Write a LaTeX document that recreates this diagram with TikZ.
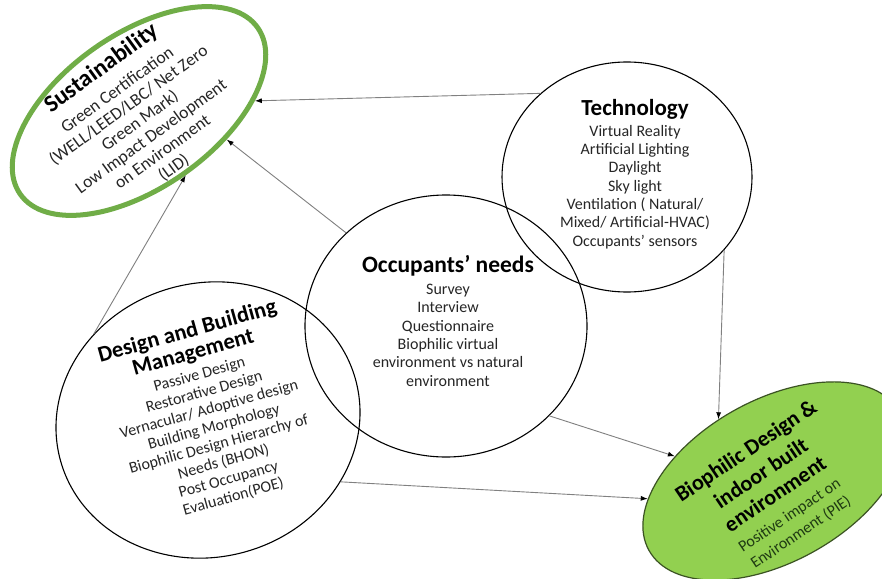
\documentclass[tikz,border=0pt]{standalone}
\usepackage{fontspec}
\setmainfont{Carlito}
\usetikzlibrary{shapes.geometric,arrows.meta}
\definecolor{sgreen}{HTML}{70AD47}
\definecolor{bfill}{HTML}{92D050}
\definecolor{bline}{HTML}{3B5323}
\definecolor{btext}{HTML}{1F3A12}
\definecolor{conncol}{HTML}{808080}
\definecolor{bodycol}{HTML}{262626}
\newcommand\ttlfont[1]{\fontsize{#1}{#1}\selectfont\bfseries\color{black}}
\newcommand\bodyfont{\fontsize{16}{18.3}\selectfont}
\begin{document}
\begin{tikzpicture}[x=1pt,y=-1pt,
  circ/.style={ellipse, draw=black, line width=1.1pt, inner sep=0pt},
  txt/.style={align=center, font=\bodyfont, text=bodycol, inner sep=0pt},
  conn/.style={draw=conncol, line width=0.9pt, -{Latex[length=7pt,width=5pt,color=black]}}]
\useasboundingbox (0,0) rectangle (882,578);
\clip (0,0) rectangle (882,578);
\fill[white] (0,0) rectangle (882,578);
% shapes
\node[ellipse, draw=sgreen, line width=5pt, fill=white, inner sep=0pt,
      minimum width=290pt, minimum height=154pt, rotate=35] (sust) at (139,111) {};
\node[circ, minimum width=250pt, minimum height=230pt] (tech) at (627,177) {};
\node[circ, minimum width=282pt, minimum height=262pt] (occ) at (446,326) {};
\node[circ, minimum width=306pt, minimum height=274pt, rotate=15] (dbm) at (208,420) {};
\node[ellipse, draw=bline, fill=bfill, line width=1.2pt, inner sep=0pt,
      minimum width=286pt, minimum height=162pt, rotate=29] (bio) at (774,481) {};
% texts
\node[txt, rotate=36, font=\fontsize{17.5}{19.2}\selectfont] (sustT) at (137,117)
  {{\ttlfont{24}Sustainability}\\[6pt] Green Certification\\ (WELL/LEED/LBC/ Net Zero\\ Green Mark)\\ Low Impact Development\\ on Environment\\ (LID)};
\node[txt] (techT) at (635,174)
  {{\ttlfont{23}Technology}\\[2.5pt] Virtual Reality\\ Artificial Lighting\\ Daylight\\ Sky light\\ Ventilation ( Natural/\\ Mixed/ Artificial-HVAC)\\ Occupants’ sensors};
\node[txt] (occT) at (448,321)
  {{\ttlfont{23.5}Occupants’ needs}\\[3.5pt] Survey\\ Interview\\ Questionnaire\\ Biophilic virtual\\ environment vs natural\\ environment};
\node[txt, rotate=15.6, font=\fontsize{16}{18.1}\selectfont] (dbmT) at (210,413)
  {{\ttlfont{22.5}Design and Building}\\[2.5pt] {\ttlfont{22.5}Management}\\[3pt] Passive Design\\ Restorative Design\\ Vernacular/ Adoptive design\\ Building Morphology\\ Biophilic Design Hierarchy of\\ Needs (BHON)\\ Post Occupancy\\ Evaluation(POE)};
\node[txt, rotate=34, text=btext] (bioT) at (773,491)
  {{\ttlfont{22}Biophilic Design \&}\\[7pt] {\ttlfont{22}indoor built}\\[7pt] {\ttlfont{22}environment}\\[5pt] Positive impact on\\[2pt] Environment (PIE)};
% connectors
\draw[conn] (tech.136) -- (sust.-30);
\draw[conn] (occ.137) -- (sust.-53);
\draw[conn] (dbm.128) -- (sust.-89);
\draw[conn] (tech.-37) -- (bio.103);
\draw[conn] (occ.-41) -- (bio.137);
\draw[conn] (dbm.-40) -- (bio.159);
\end{tikzpicture}
\end{document}
